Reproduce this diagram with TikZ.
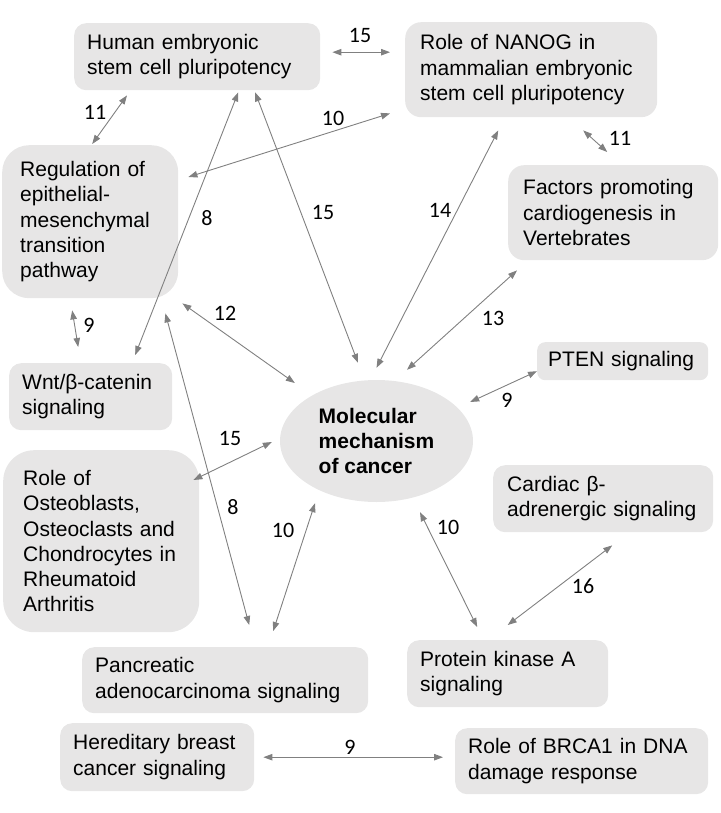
\documentclass[tikz,border=0pt]{standalone}
\usepackage{fontspec}
\setmainfont{Liberation Sans}
\newfontfamily\numfont{Carlito}
\usepackage{xcolor}
\usepackage{tikz}
\usetikzlibrary{arrows.meta,shapes.geometric}
\definecolor{boxgray}{HTML}{E7E6E6}
\definecolor{linkgray}{HTML}{808080}
\newcommand{\boxfont}{\fontsize{21}{25.3}\selectfont}

\begin{document}
\begin{tikzpicture}[x=1pt,y=-1pt,
  pathway/.style={fill=boxgray, anchor=north west, align=left, inner ysep=0pt, font=\boxfont},
  link/.style={draw=linkgray, line width=0.9pt, {Triangle[length=9pt,width=6.5pt]}-{Triangle[length=9pt,width=6.5pt]}},
  weight/.style={font=\numfont\fontsize{22}{26}\selectfont, inner sep=0pt}]

\useasboundingbox (0,0) rectangle (720,813);

% Pathway boxes
\node[pathway, rounded corners=12pt, inner xsep=13pt, text width=220pt, minimum height=67pt] (hesc) at (74,23) {Human embryonic\\stem cell pluripotency};
\node[pathway, rounded corners=16pt, inner xsep=15pt, text width=222pt, minimum height=95pt] (nanog) at (405,22) {Role of NANOG in\\mammalian embryonic\\stem cell pluripotency};
\node[pathway, rounded corners=27pt, inner xsep=18pt, text width=140pt, minimum height=153pt] (emt) at (2,145) {Regulation of\\epithelial-\\mesenchymal\\transition\\pathway};
\node[pathway, rounded corners=16pt, inner xsep=15pt, text width=180pt, minimum height=95pt] (cardio) at (508,165) {Factors promoting\\cardiogenesis in\\Vertebrates};
\node[pathway, rounded corners=8pt, inner xsep=11pt, text width=149pt, minimum height=38pt] (pten) at (537,342) {PTEN~signaling};
\node[pathway, rounded corners=12pt, inner xsep=13pt, text width=137pt, minimum height=67pt] (wnt) at (9,363) {Wnt/β-catenin\\signaling};
\node[pathway, rounded corners=31pt, inner xsep=20pt, text width=156pt, minimum height=182pt] (osteo) at (3,450) {Role of\\Osteoblasts,\\Osteoclasts and\\Chondrocytes~in\\Rheumatoid\\Arthritis};
\node[pathway, rounded corners=12pt, inner xsep=14pt, text width=192pt, minimum height=67pt] (cardiac) at (493,465) {Cardiac β-\\adrenergic signaling};
\node[pathway, rounded corners=12pt, inner xsep=13pt, text width=260pt, minimum height=66pt] (panc) at (82,647) {Pancreatic\\adenocarcinoma signaling};
\node[pathway, rounded corners=12pt, inner xsep=13pt, text width=175pt, minimum height=67pt] (pka) at (407,640) {Protein kinase A\\signaling};
\node[pathway, rounded corners=12pt, inner xsep=13pt, text width=168pt, minimum height=68pt] (hered) at (60,723) {Hereditary~breast\\cancer signaling};
\node[pathway, rounded corners=12pt, inner xsep=13pt, text width=227pt, minimum height=66pt] (brca) at (455,728) {Role of BRCA1 in DNA\\damage response};

% Central pathway
\node[ellipse, fill=boxgray, minimum width=193pt, minimum height=122pt, inner sep=0pt, align=left, font=\boxfont\bfseries] (mol) at (376.5,441) {Molecular\\mechanism\\of cancer};

% Overlaps
\draw[link] ([xshift=12pt,yshift=4.5pt]hesc.east) -- ([xshift=-15pt,yshift=17.5pt]nanog.west);
\draw[link] ([xshift=53pt,yshift=-5pt]hesc.south west) -- ([xshift=2pt,yshift=1pt]emt.north);
\draw[link] ([xshift=-15pt,yshift=4pt]nanog.south west) -- ([xshift=10pt,yshift=-32pt]emt.north east);
\draw[link] ([xshift=41pt,yshift=-2pt]hesc.south) -- ([xshift=44.5pt,yshift=8pt]wnt.north);
\draw[link] ([xshift=58pt,yshift=-2pt]hesc.south) -- ([xshift=-18.5pt,yshift=17pt]mol.north);
\draw[link] ([xshift=-33pt,yshift=-13pt]nanog.south) -- ([yshift=12pt]mol.north);
\draw[link] ([xshift=52pt,yshift=-13pt]nanog.south) -- ([xshift=-6pt,yshift=13pt]cardio.north);
\draw[link] ([xshift=9pt,yshift=-10pt]cardio.south west) -- ([xshift=30.5pt,yshift=10pt]mol.north);
\draw[link] ([yshift=-10pt]pten.west) -- ([xshift=-3pt,yshift=39pt]mol.east);
\draw[link] ([xshift=4pt,yshift=-5pt]emt.south east) -- ([xshift=15pt,yshift=58pt]mol.west);
\draw[link] ([xshift=-18pt,yshift=-12pt]emt.south) -- ([xshift=-12.5pt,yshift=16pt]wnt.north);
\draw[link] ([xshift=-13pt,yshift=-15pt]emt.south east) -- ([xshift=24pt,yshift=22pt]panc.north);
\draw[link] ([xshift=-6pt,yshift=-30pt]osteo.north east) -- ([xshift=-8pt,yshift=-1pt]mol.west);
\draw[link] ([xshift=48pt,yshift=16pt]panc.north) -- ([xshift=-61.5pt,yshift=-1pt]mol.south);
\draw[link] ([xshift=43.5pt,yshift=-10pt]mol.south) -- ([xshift=-30.5pt,yshift=13pt]pka.north);
\draw[link] ([xshift=9pt,yshift=-13pt]cardiac.south) -- ([yshift=15pt]pka.north);
\draw[link] ([xshift=9pt]hered.east) -- ([xshift=-12pt,yshift=4pt]brca.west);

% Overlap counts
\node[weight] (w-hesc-nanog) at (360,35) {15};
\node[weight] (w-hesc-emt) at (95,112) {11};
\node[weight] (w-nanog-emt) at (333,118) {10};
\node[weight] (w-hesc-wnt) at (207,218) {8};
\node[weight] (w-hesc-mol) at (323,212) {15};
\node[weight] (w-nanog-mol) at (440,210) {14};
\node[weight] (w-nanog-cardio) at (620,138) {11};
\node[weight] (w-cardio-mol) at (493,318) {13};
\node[weight] (w-pten-mol) at (507,400) {9};
\node[weight] (w-emt-mol) at (225,313) {12};
\node[weight] (w-emt-wnt) at (89,325) {9};
\node[weight] (w-osteo-mol) at (230,438) {15};
\node[weight] (w-emt-panc) at (233,507) {8};
\node[weight] (w-panc-mol) at (283,530) {10};
\node[weight] (w-pka-mol) at (448,527) {10};
\node[weight] (w-cardiac-pka) at (583,586) {16};
\node[weight] (w-hered-brca) at (350,747) {9};
\end{tikzpicture}
\end{document}
